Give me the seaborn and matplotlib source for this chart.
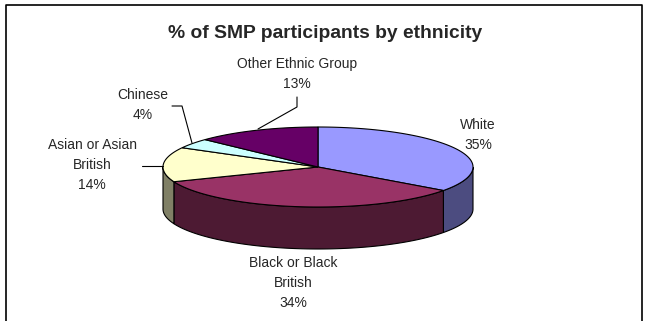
import numpy as np
import matplotlib
matplotlib.use("Agg")
import matplotlib.pyplot as plt
import seaborn as sns

# Share of SMP participants by ethnicity (%)
categories = ["White", "Black or Black\nBritish", "Asian or Asian\nBritish",
              "Chinese", "Other Ethnic Group"]
shares = [35, 34, 14, 4, 13]
top_colors = ["#9999FF", "#993366", "#FFFFCC", "#CCFFFF", "#660066"]
side_colors = ["#4C4C80", "#4D1A33", "#808066", "#668080", "#330033"]

sns.set_theme(style="white")
plt.rcParams["font.family"] = ["Liberation Sans", "DejaVu Sans"]

W, H, DPI = 647, 321, 100
fig = plt.figure(figsize=(W / DPI, H / DPI), dpi=DPI)
ax = fig.add_axes([0, 0, 1, 1])
ax.set_xlim(0, W)
ax.set_ylim(H, 0)
ax.axis("off")

# outer chart frame (open at the bottom)
ax.plot([6, 6, 641.5, 641.5], [H + 5, 5, 5, H + 5], color="black", lw=1.2,
        solid_capstyle="butt", clip_on=False)

ax.text(325, 33, "% of SMP participants by ethnicity", ha="center", va="center",
        fontsize=13.9, fontweight="bold")

# 3-D pie geometry (screen units)
cx, cy, rx, ry, depth = 318, 167, 155, 40, 42


def arc(t0, t1, n=200):
    t = np.radians(np.linspace(t0, t1, n))
    return cx + rx * np.cos(t), cy - ry * np.sin(t)


total = float(sum(shares))
bounds = 90 - 360 * np.concatenate([[0], np.cumsum(shares)]) / total

# side walls for the front half of the pie
for i in range(len(shares)):
    hi, lo = bounds[i], bounds[i + 1]
    for k in range(-2, 2):
        a, b = 180 + 360 * k, 360 + 360 * k
        s, e = max(lo, a), min(hi, b)
        if e - s > 1e-6:
            x, y = arc(e, s)
            px = np.concatenate([x, x[::-1]])
            py = np.concatenate([y, (y + depth)[::-1]])
            ax.fill(px, py, facecolor=side_colors[i], edgecolor="black",
                    lw=0.8, zorder=2)

# top faces
for i in range(len(shares)):
    x, y = arc(bounds[i], bounds[i + 1])
    ax.fill(np.concatenate([[cx], x]), np.concatenate([[cy], y]),
            facecolor=top_colors[i], edgecolor="black", lw=0.8, zorder=3)

# data labels
label_pos = [(478, 135), (293, 283), (92, 165), (143, 105), (297, 74)]
for name, v, (lx, ly) in zip(categories, shares, label_pos):
    ax.text(lx, ly, f"{name}\n{v}%", ha="center", va="center", fontsize=10,
            linespacing=1.53, zorder=5)

# leader lines
ax.plot([297, 297, 258], [97, 107, 129], color="black", lw=0.8, zorder=4)
ax.plot([172, 182, 192], [106, 106, 143], color="black", lw=0.8, zorder=4)
ax.plot([142, 163], [166, 166], color="black", lw=0.8, zorder=4)

fig.savefig("out.png", dpi=DPI)
